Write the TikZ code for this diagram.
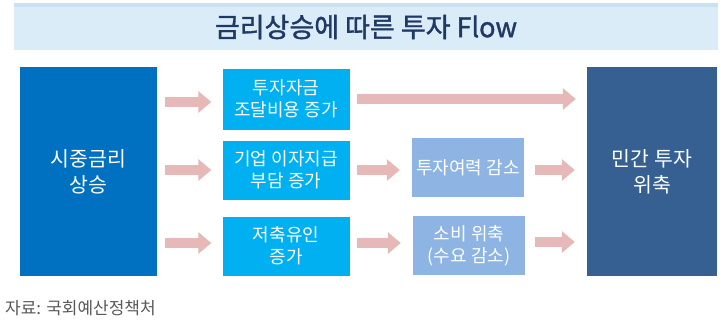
\documentclass[tikz,border=0pt]{standalone}
\usepackage{fontspec}
\setmainfont{Noto Sans CJK KR}
\newfontfamily\ttlfont[FakeBold=1.3]{Noto Sans CJK KR}
\usetikzlibrary{arrows.meta}
\definecolor{bandbg}{HTML}{DAECF7}
\definecolor{bandtop}{HTML}{C8E2F2}
\definecolor{titlec}{HTML}{203864}
\definecolor{leftc}{HTML}{0070C0}
\definecolor{midc}{HTML}{00B0F0}
\definecolor{thirdc}{HTML}{8DB4E2}
\definecolor{rightc}{HTML}{366092}
\definecolor{arrc}{HTML}{E6B8B7}
\definecolor{srcc}{HTML}{595959}
\tikzset{
  boxbase/.style={inner sep=0pt, align=center, text=white, font=\fontsize{18}{22}\selectfont},
  leftbox/.style={boxbase, fill=leftc, minimum width=137pt, minimum height=209pt, font=\fontsize{20.5}{26}\selectfont},
  rightbox/.style={boxbase, fill=rightc, minimum width=130pt, minimum height=209pt, font=\fontsize{20.5}{26}\selectfont},
  midbox/.style={boxbase, fill=midc, minimum width=127pt, minimum height=59pt},
  thirdbox/.style={boxbase, fill=thirdc, minimum width=112pt, minimum height=59pt},
  fatarrow/.style={draw=arrc, line width=10pt, -{Triangle[width=21pt,length=13pt]}, fill=arrc}
}
\begin{document}
\begin{tikzpicture}[x=1pt,y=-1pt]
\useasboundingbox (0,0) rectangle (725,324);
\fill[white] (0,0) rectangle (725,324);
% title band
\fill[bandbg] (14,3) rectangle (718,50);
\fill[bandtop] (14,3) rectangle (718,7);
\node[text=titlec, font=\ttlfont\fontsize{27}{30}\selectfont] (title) at (366,27) {금리상승에 따른 투자 Flow};
% boxes
\node[leftbox] (L) at (88.5,171.5) {시중금리\\상승};
\node[midbox, minimum height=61pt] (B1) at (286,99) {투자자금\\조달비용 증가};
\node[midbox] (B2) at (286,170) {기업 이자지급\\부담 증가};
\node[midbox] (B3) at (286,246) {저축유인\\증가};
\node[thirdbox] (M2) at (468,167.5) {투자여력 감소};
\node[thirdbox] (M3) at (469,245.5) {소비 위축\\(수요 감소)};
\node[rightbox] (R) at (652,171.5) {민간 투자\\위축};
% arrows
\draw[fatarrow, shorten <=8pt, shorten >=11pt] (L.east |- 0,102) -- (B1.west |- 0,102);
\draw[fatarrow, shorten <=8pt, shorten >=11pt] (L.east |- B2.west) -- (B2.west);
\draw[fatarrow, shorten <=8pt, shorten >=11pt] (L.east |- 0,243) -- (B3.west |- 0,243);
\draw[fatarrow, shorten <=7pt, shorten >=11pt] (B1.east) -- (R.west |- B1.east);
\draw[fatarrow, shorten <=7pt, shorten >=12pt] (B2.east) -- (M2.west |- B2.east);
\draw[fatarrow, shorten <=7pt, shorten >=12pt] (B3.east |- 0,243) -- (M3.west |- 0,243);
\draw[fatarrow, shorten <=11pt, shorten >=12pt] (M2.east |- 0,170) -- (R.west |- 0,170);
\draw[fatarrow, shorten <=10pt, shorten >=12pt] (M3.east |- 0,242) -- (R.west |- 0,242);
% source
\node[anchor=west, inner sep=0pt, text=srcc, font=\fontsize{17}{19}\selectfont] (src) at (5,308) {자료: 국회예산정책처};
\end{tikzpicture}
\end{document}
